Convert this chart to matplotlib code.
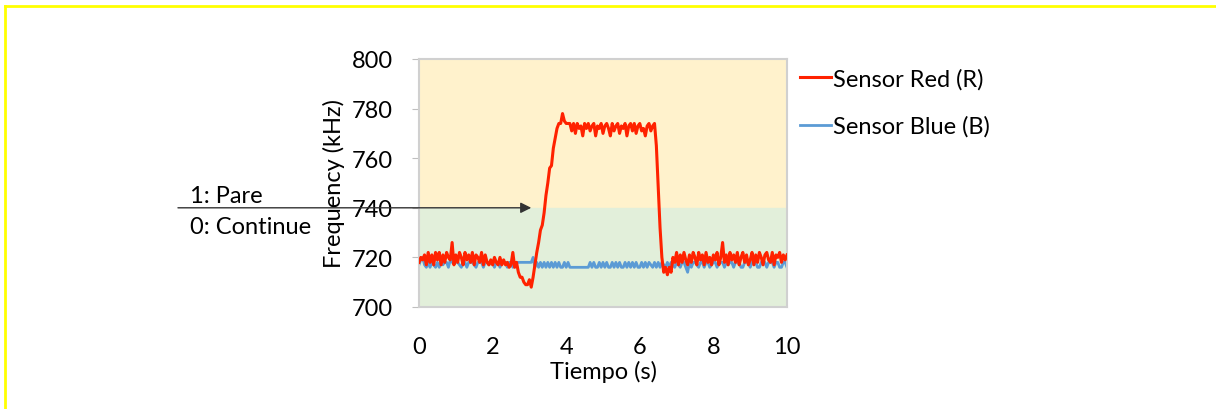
import matplotlib.pyplot as plt
import matplotlib.lines as mlines
import numpy as np

plt.rcParams['font.family'] = ['Lato', 'DejaVu Sans']

# Sensor readings, one sample every 0.05 s from 0 to 10 s (kHz)
red = [
    # 0.00 - 0.95
    718, 720, 719, 721, 717, 722, 718, 721, 717, 722, 719, 722, 717, 721, 718, 722, 720, 719, 726, 717,
    # 1.00 - 1.95
    721, 718, 722, 720, 717, 722, 719, 721, 718, 722, 717, 721, 720, 718, 722, 717, 721, 718, 717, 719,
    # 2.00 - 2.95
    717, 720, 718, 717, 720, 717, 719, 717, 718, 716, 717, 722, 716, 718, 714, 712, 712, 710, 709, 709,
    # 3.00 - 3.95
    711, 708, 712, 717, 722, 726, 731, 733, 738, 745, 750, 756, 757, 764, 768, 772, 774, 774, 778, 775,
    # 4.00 - 4.95
    774, 774, 774, 771, 774, 770, 774, 772, 773, 769, 774, 772, 774, 771, 773, 774, 769, 773, 772, 774,
    # 5.00 - 5.95
    770, 773, 774, 772, 769, 774, 771, 773, 774, 770, 773, 772, 774, 769, 773, 774, 771, 774, 770, 773,
    # 6.00 - 6.95
    774, 771, 772, 769, 773, 774, 771, 773, 774, 765, 748, 732, 720, 714, 716, 713, 716, 714, 720, 718,
    # 7.00 - 7.95
    722, 717, 721, 718, 722, 719, 717, 721, 718, 722, 720, 717, 722, 719, 721, 717, 722, 718, 720, 717,
    # 8.00 - 8.95
    721, 719, 722, 717, 720, 726, 718, 721, 717, 722, 719, 721, 718, 722, 717, 720, 722, 718, 721, 717,
    # 9.00 - 9.95
    719, 722, 717, 721, 718, 722, 720, 717, 721, 722, 719, 718, 722, 717, 721, 720, 722, 718, 721, 719,
    # 10.0
    721,
]

blue = [
    # 0.00 - 0.95
    717, 719, 720, 717, 716, 718, 716, 718, 717, 716, 718, 716, 718, 717, 718, 718, 716, 719, 718, 718,
    # 1.00 - 1.95
    718, 718, 717, 716, 718, 718, 716, 718, 718, 718, 717, 716, 718, 718, 718, 716, 718, 718, 717, 718,
    # 2.00 - 2.95
    718, 716, 718, 718, 716, 718, 718, 718, 716, 718, 718, 716, 718, 718, 718, 718, 718, 718, 718, 718,
    # 3.00 - 3.95
    718, 718, 720, 716, 718, 716, 718, 716, 718, 716, 718, 716, 718, 716, 718, 716, 718, 716, 716, 718,
    # 4.00 - 4.95
    716, 718, 716, 716, 716, 716, 716, 716, 716, 716, 716, 716, 716, 718, 716, 718, 716, 716, 718, 716,
    # 5.00 - 5.95
    718, 716, 718, 716, 716, 718, 716, 718, 716, 718, 716, 716, 718, 716, 718, 716, 718, 716, 718, 716,
    # 6.00 - 6.95
    716, 718, 716, 718, 716, 718, 717, 716, 718, 716, 718, 716, 718, 717, 716, 718, 716, 718, 717, 716,
    # 7.00 - 7.95
    718, 717, 716, 718, 718, 716, 714, 718, 716, 718, 718, 717, 716, 718, 718, 716, 718, 718, 716, 717,
    # 8.00 - 8.95
    718, 718, 716, 718, 718, 718, 716, 718, 717, 718, 718, 716, 718, 718, 718, 716, 716, 718, 718, 718,
    # 9.00 - 9.95
    716, 718, 718, 718, 716, 716, 718, 718, 718, 716, 718, 718, 718, 716, 718, 718, 716, 716, 718, 718,
    # 10.0
    716,
]

t_red = np.linspace(0, 10, len(red))
t_blue = np.linspace(0, 10, len(blue))

threshold = 740
x_ticks = [0, 2, 4, 6, 8, 10]
y_ticks = [700, 720, 740, 760, 780, 800]

fig = plt.figure(figsize=(12.16, 4.10), dpi=100)
ax = fig.add_axes([419 / 1216, 1 - 308 / 410, 368 / 1216, 248 / 410])

# shaded decision zones
ax.axhspan(threshold, 800, color='#FFF2CC', zorder=0)
ax.axhspan(700, threshold, color='#E2EFDA', zorder=0)

ax.plot(t_red, red, color='#FF2200', lw=2.2, label='Sensor Red (R)', zorder=3)
ax.plot(t_blue, blue, color='#5B9BD5', lw=2, label='Sensor Blue (B)', zorder=2)

ax.set_xlim(0, 10)
ax.set_ylim(700, 800)
ax.set_xticks(x_ticks)
ax.set_yticks(y_ticks)
ax.tick_params(axis='x', length=0, pad=21, labelsize=17)
ax.tick_params(axis='y', length=5, color='#BFBFBF', pad=14, labelsize=17)
for s in ax.spines.values():
    s.set_color('#D0D0D0')
    s.set_linewidth(1.5)

ax.set_xlabel('Tiempo (s)', fontsize=17, labelpad=2)
ax.set_ylabel('Frequency (kHz)', fontsize=17, labelpad=5)

# threshold arrow with the decision labels
ax.annotate('', xy=(3.05, threshold), xycoords='data',
            xytext=(-0.655, threshold), textcoords=('axes fraction', 'data'),
            arrowprops=dict(arrowstyle='-|>', color='#333333', lw=1,
                            mutation_scale=16, shrinkA=0, shrinkB=0),
            annotation_clip=False, zorder=5)
ax.text(-0.622, 745.0, '1: Pare', transform=ax.get_yaxis_transform(),
        fontsize=17, va='center', ha='left')
ax.text(-0.622, 732.3, '0: Continue', transform=ax.get_yaxis_transform(),
        fontsize=17, va='center', ha='left')

fig.legend(loc='upper left', bbox_to_anchor=(800 / 1216, 1 - 69 / 410),
           frameon=False, fontsize=17, handlelength=1.3, handletextpad=0.1,
           labelspacing=1.1, borderpad=0, borderaxespad=0)

# yellow frame
fig.add_artist(mlines.Line2D([5 / 1216, 1], [1 - 7 / 410, 1 - 7 / 410],
                             transform=fig.transFigure, color='#FFFF00', lw=2))
fig.add_artist(mlines.Line2D([5 / 1216, 5 / 1216], [0, 1 - 7 / 410],
                             transform=fig.transFigure, color='#FFFF00', lw=2))

fig.savefig('out.png', dpi=100)
